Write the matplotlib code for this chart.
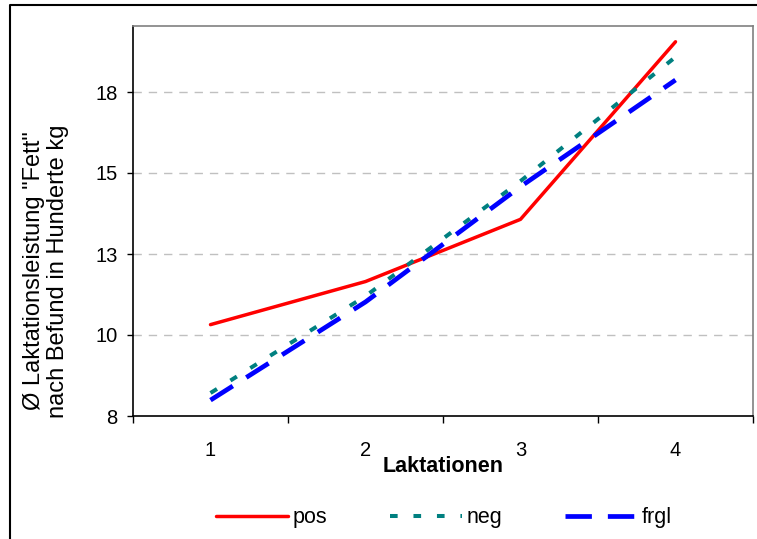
import matplotlib
matplotlib.use("Agg")
import matplotlib.pyplot as plt
from matplotlib.lines import Line2D

plt.rcParams['font.family'] = ['Liberation Sans', 'DejaVu Sans']
plt.rcParams['lines.scale_dashes'] = False

categories = [1, 2, 3, 4]
pos = [10.32, 11.65, 13.57, 19.05]
neg = [8.21, 11.20, 14.75, 18.58]
frgl = [7.99, 11.02, 14.58, 17.87]
ytick_vals = [7.5, 10, 12.5, 15, 17.5]
ytick_labels = ["8", "10", "13", "15", "18"]
ylabel = 'Ø Laktationsleistung "Fett"\nnach Befund in Hunderte kg'
xlabel = "Laktationen"

W, H = 757, 539
fig = plt.figure(figsize=(W / 100, H / 100), dpi=100)
ax = fig.add_axes([133 / W, 1 - 416 / H, 620 / W, 390 / H])

ax.plot(categories, pos, color='#FF0000', lw=2.5, label='pos', solid_capstyle='round', zorder=3)
ax.plot(categories, neg, color='#008080', lw=2.9, label='neg', dashes=(5.5, 11.4),
        dash_capstyle='butt', zorder=3)
ax.plot(categories, frgl, color='#0000FF', lw=3.4, label='frgl', dashes=(19, 11.5),
        dash_capstyle='butt', zorder=3)

ax.set_xlim(0.5, 4.5)
ax.set_ylim(7.5, 7.5 + 390 / 81 * 2.5)
ax.set_xticks([0.5, 1.5, 2.5, 3.5, 4.5])
ax.set_xticklabels([])
ax.set_xticks(categories, minor=True)
ax.set_xticklabels([str(c) for c in categories], minor=True)
ax.tick_params(axis='x', which='major', length=5, width=1, direction='out', color='black')
ax.tick_params(axis='x', which='minor', length=0, pad=18, labelsize=14.5)
ax.set_yticks(ytick_vals)
ax.set_yticklabels(ytick_labels)
ax.tick_params(axis='y', length=4, width=1, direction='out', pad=7, labelsize=14.5)

for v in ytick_vals[1:]:
    ax.axhline(v, color='#C0C0C0', lw=1, dashes=(6, 5), zorder=1)

ax.spines['left'].set_color('black')
ax.spines['bottom'].set_color('black')
ax.spines['top'].set_color('#808080')
ax.spines['right'].set_color('#808080')
for s in ax.spines.values():
    s.set_linewidth(1.2)

ax.set_ylabel(ylabel, fontsize=17, multialignment='center', linespacing=1.1)
ax.yaxis.set_label_coords((46 - 133) / 620, (416 - 271) / 390)
ax.yaxis.label.set_va('center')
ax.set_xlabel(xlabel, fontsize=15.5, fontweight='bold')
ax.xaxis.set_label_coords(0.5, (416 - 466) / 390)
ax.xaxis.label.set_va('center')

fig.legend(loc='center', bbox_to_anchor=(444 / W, 1 - 518 / H), ncol=3, frameon=False,
           fontsize=15.5, handlelength=3.35, handletextpad=0.23, columnspacing=2.9)

fig.add_artist(Line2D([10 / W, 10 / W, 1], [0, 1 - 5 / H, 1 - 5 / H], color='black', lw=1.5,
                      transform=fig.transFigure))

fig.savefig('out.png', dpi=100)
